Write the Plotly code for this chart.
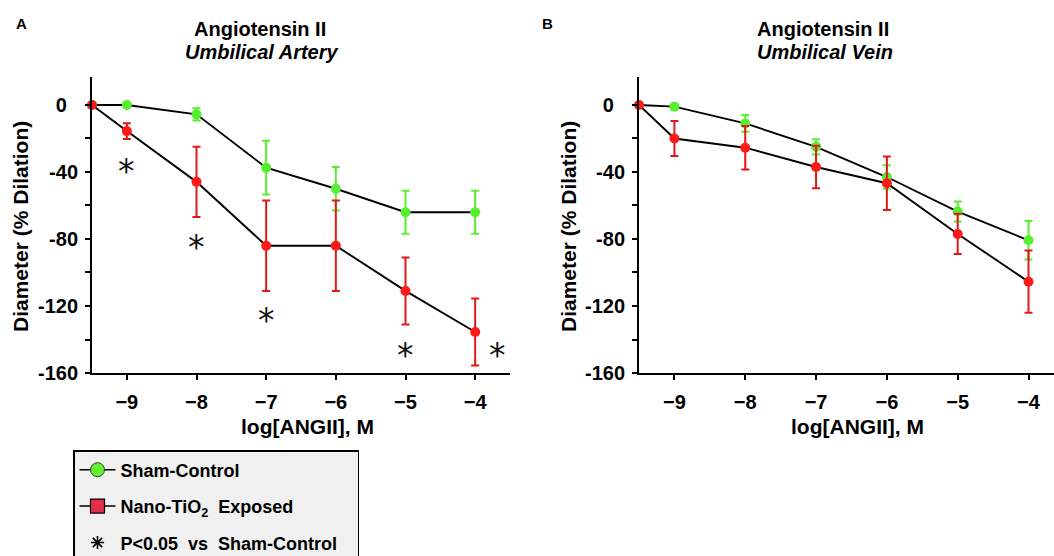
import plotly.graph_objects as go

# ---------------- data ----------------
log_conc = [-9.5, -9, -8, -7, -6, -5, -4]

# Panel A: Umbilical Artery
artery_sham = [0, 0, -5.6, -37.4, -50, -64, -64]
artery_sham_err = [0, 0, 3.7, 16, 13, 12.8, 12.8]
artery_nano = [0, -15.6, -45.9, -84, -84, -111, -135.5]
artery_nano_err = [0, 4.7, 21, 27, 27, 20, 20]
artery_sig_x = [-9, -8, -7, -5, -3.68]
artery_sig_y = [-38, -83, -127, -148, -148]

# Panel B: Umbilical Vein
vein_sham = [0, -1, -11, -25, -43, -63.6, -80.8]
vein_sham_err = [0, 1.5, 5, 4.5, 7, 6, 11.5]
vein_nano = [0, -20, -25.5, -37, -46.7, -77, -105.5]
vein_nano_err = [0, 10.5, 13, 12.7, 16, 12, 18.6]

x_ticks = [-9, -8, -7, -6, -5, -4]
y_ticks = [0, -20, -40, -60, -80, -100, -120, -140, -160]
y_ticktext = ["0\u00a0\u00a0", "", "-40", "", "-80", "", "-120", "", "-160"]

FONT = "Liberation Sans, Arial, sans-serif"
GREEN = "#58ee30"
RED = "#ff1a1a"
RED_ERR = "#e01818"
NB = "\u00a0"

W, H = 1054, 556
def px_x(p):
    return p / W
def px_y(p):
    return (H - p) / H

fig = go.Figure()

def add_series(xax, yax, y, err, color, ecolor):
    fig.add_trace(go.Scatter(
        x=log_conc, y=y, xaxis=xax, yaxis=yax,
        mode="lines+markers",
        line=dict(color="black", width=1.9),
        marker=dict(color=color, size=10, line=dict(width=0)),
        error_y=dict(type="data", array=err, color=ecolor, thickness=2, width=4),
        cliponaxis=False, showlegend=False,
    ))

add_series("x", "y", artery_sham, artery_sham_err, GREEN, GREEN)
add_series("x", "y", artery_nano, artery_nano_err, RED, RED_ERR)
add_series("x2", "y2", vein_sham, vein_sham_err, GREEN, GREEN)
add_series("x2", "y2", vein_nano, vein_nano_err, RED, RED_ERR)

# legend entries
fig.add_trace(go.Scatter(
    x=[None], y=[None], mode="lines+markers", name="Sham-Control",
    line=dict(color="black", width=1.5),
    marker=dict(symbol="circle", color="#66ee33", size=14, line=dict(color="#2a4a1a", width=1)),
    legendgroup="a",
))
fig.add_trace(go.Scatter(
    x=[None], y=[None], mode="lines+markers", name="Nano-TiO<sub>2</sub>" + NB * 2 + "Exposed",
    line=dict(color="black", width=1.5),
    marker=dict(symbol="square", color="#e3304a", size=14, line=dict(color="black", width=1.2)),
    legendgroup="b",
))
fig.add_trace(go.Scatter(
    x=[None], y=[None], mode="markers",
    name="P<0.05" + NB * 2 + "vs" + NB * 2 + "Sham-Control" + NB * 3,
    marker=dict(symbol="asterisk-open", color="black", size=11, line=dict(color="black", width=1.6)),
    legendgroup="c",
))

axis_common = dict(
    showline=True, linecolor="black", linewidth=2,
    ticks="outside", ticklen=5, tickwidth=2, tickcolor="black",
    showgrid=False, zeroline=False, automargin=False,
    tickfont=dict(family=FONT, size=20, color="black", weight="bold"),
)

ydom = [px_y(373), px_y(77)]
fig.update_layout(
    width=W, height=H,
    margin=dict(l=0, r=0, t=0, b=0, autoexpand=False),
    paper_bgcolor="white", plot_bgcolor="white",
    font=dict(family=FONT, color="black"),
    xaxis=dict(domain=[px_x(92), px_x(510)], range=[-9.5, -3.5], tickvals=x_ticks,
               anchor="y", ticklabelstandoff=5, **axis_common),
    yaxis=dict(domain=ydom, range=[-160, 16.7], tickvals=y_ticks, ticktext=y_ticktext,
               anchor="x", ticklabelstandoff=3, **axis_common),
    xaxis2=dict(domain=[px_x(639), 1.0], range=[-9.5, -3.64], tickvals=x_ticks,
                anchor="y2", ticklabelstandoff=5, **axis_common),
    yaxis2=dict(domain=ydom, range=[-160, 16.7], tickvals=y_ticks, ticktext=y_ticktext,
                anchor="x2", ticklabelstandoff=3, **axis_common),
    legend=dict(
        x=px_x(73), y=px_y(450), xanchor="left", yanchor="top",
        bgcolor="#f0f0f0", bordercolor="black", borderwidth=1.5,
        font=dict(family=FONT, size=18, color="black", weight="bold"),
        tracegroupgap=10, itemwidth=36,
    ),
)

# significance asterisks (placed in data coordinates)
for sx, sy in zip(artery_sig_x, artery_sig_y):
    fig.add_annotation(
        x=sx, y=sy, xref="x", yref="y", text="*", showarrow=False,
        xanchor="center", yanchor="middle", yshift=-3,
        font=dict(family="DejaVu Sans", size=33, color="#111111"),
    )

def ann(x, y, text, size, angle=0, italic=False):
    fig.add_annotation(
        x=px_x(x), y=px_y(y), xref="paper", yref="paper", text=text,
        showarrow=False, textangle=angle, xanchor="center", yanchor="middle",
        font=dict(family=FONT, size=size, color="black", weight="bold",
                  style="italic" if italic else "normal"),
    )

ann(21, 24, "A", 15)
ann(547, 24, "B", 15)
ann(260, 29, "Angiotensin II", 20)
ann(262, 52, "Umbilical Artery", 20, italic=True)
ann(823, 29, "Angiotensin II", 20)
ann(825, 52, "Umbilical Vein", 20, italic=True)
ann(20, 227, "Diameter (% Dilation)", 21, angle=-90)
ann(568, 227, "Diameter (% Dilation)", 21, angle=-90)
ann(307, 426, "log[ANGII], M", 21)
ann(857, 426, "log[ANGII], M", 21)

fig.write_html("out.html")
